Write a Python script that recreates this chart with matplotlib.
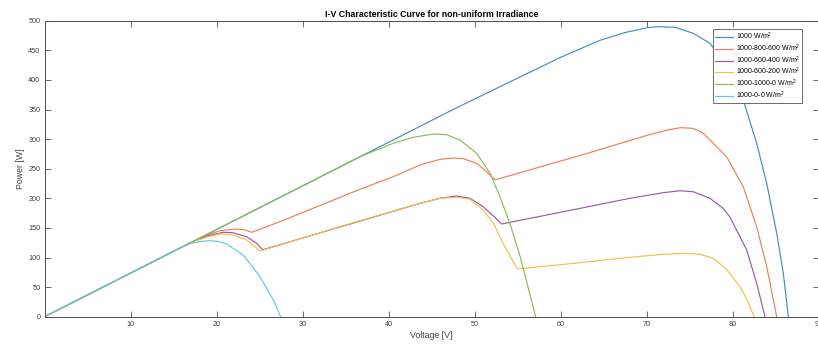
import matplotlib
matplotlib.use("Agg")
import matplotlib.pyplot as plt

plt.rcParams['font.family'] = ['Liberation Sans', 'DejaVu Sans']
plt.rcParams['mathtext.fontset'] = 'custom'
plt.rcParams['mathtext.rm'] = 'Liberation Sans'
plt.rcParams['mathtext.it'] = 'Liberation Sans:italic'

title = "I-V Characteristic Curve for non-uniform Irradiance"
xlabel = "Voltage [V]"
ylabel = "Power [W]"

labels = ["1000 W/m$^2$", "1000-800-600 W/m$^2$", "1000-600-400 W/m$^2$",
          "1000-600-200 W/m$^2$", "1000-1000-0 W/m$^2$", "1000-0-0 W/m$^2$"]
colors = ["#3f8fc9", "#ee7e5c", "#9a5aa6", "#efc24a", "#8cbd55", "#62c6ec"]

# 1000 W/m2
v_1000 = [0, 36.67, 47.5, 52.95, 60.13, 64.6, 67.5, 70.0, 71.36, 73.3, 75.43, 77.37,
          78.07, 79.6, 81.24, 82.8, 83.97, 85.13, 85.9, 86.48]
p_1000 = [0, 270, 350, 388.5, 439, 467, 480, 488, 490, 488.8, 478.7, 461.8,
          447.6, 410, 366, 293, 225, 141, 73, 0]

# 1000-800-600
v_886 = [0, 17.7, 18.85, 20.4, 22.34, 23.2, 24.08, 27.37, 36.67, 40.55, 43.65, 45.98,
         47.52, 48.69, 50.24, 51.4, 52.37, 63.0, 70.2, 72.5, 73.9, 75.4, 76.6, 79.3,
         81.24, 82.8, 83.97, 85.13]
p_886 = [0, 130.0, 138, 145.3, 148.1, 146.9, 142.6, 160.5, 215.2, 236.5, 256.3, 265.9,
         268, 267, 259, 245, 231, 275.5, 307, 315.5, 319.3, 318.2, 309.8, 270.3,
         219.6, 152, 84.5, 0]

# 1000-600-400
v_864 = [0, 17.0, 18.9, 20.8, 21.9, 23.5, 24.66, 25.36, 36.67, 43.65, 45.98, 47.9,
         49.47, 51.0, 52.2, 53.15, 62.26, 68.07, 71.94, 73.88, 75.43, 77.37, 78.9,
         79.7, 81.64, 82.8, 83.77]
p_864 = [0, 125.5, 136.5, 142.6, 141.9, 135, 124, 113.0, 161.5, 191.5, 200, 203.9,
         200, 185.8, 170, 156.6, 183, 200, 209.5, 212.8, 211, 200, 183,
         168, 112.7, 56.4, 0]

# 1000-600-200
v_862 = [0, 17.0, 18.9, 20.4, 21.9, 23.5, 25.05, 36.67, 43.65, 45.98, 47.9, 49.47,
         51.0, 52.2, 53.3, 54.97, 62.26, 68.07, 71.94, 74.66, 76.2, 77.76, 79.3,
         80.86, 81.7, 82.5]
p_862 = [0, 125.3, 134.5, 139.7, 138, 129.6, 111, 162.2, 191.5, 200, 201.7, 198.3,
         180, 157.8, 124, 80.6, 91.2, 100.3, 105.4, 107, 105.4, 98.6, 80,
         50.7, 28, 0]

# 1000-1000-0
v_110 = [0, 36.67, 40.55, 42.87, 45.2, 46.76, 48.3, 50.24, 51.8, 52.95, 54.1, 55.3,
         56.2, 57.1]
p_110 = [0, 270.3, 292.9, 303, 308.6, 307.4, 298.5, 276, 242.2, 202.7, 157.8, 101.4,
         50.7, 0]

# 1000-0-0
v_100 = [0, 14.6, 16.9, 18.2, 19.23, 20.2, 21.17, 23.1, 25.05, 26.6, 27.45]
p_100 = [0, 107.6, 123.5, 127.2, 128.4, 127.0, 122.8, 104.2, 67.6, 28.2, 0]

series_v = [v_1000, v_886, v_864, v_862, v_110, v_100]
series_p = [p_1000, p_886, p_864, p_862, p_110, p_100]

xticks = [10, 20, 30, 40, 50, 60, 70, 80, 90]
yticks = [0, 50, 100, 150, 200, 250, 300, 350, 400, 450, 500]

W, H = 818, 345
fig = plt.figure(figsize=(W / 100, H / 100), dpi=100)
ax = fig.add_axes([44.6 / W, (H - 316.7) / H, 774.0 / W, 296.0 / H])

for v, p, c, lab in zip(series_v, series_p, colors, labels):
    ax.plot(v, p, color=c, lw=0.85, label=lab)

ax.set_xlim(0, 90)
ax.set_ylim(0, 500)
ax.set_xticks(xticks)
ax.set_yticks(yticks)
axc = "#4d4d4d"
ax.tick_params(direction='in', length=4.3, width=0.6, colors=axc, labelsize=5.2,
               top=True, right=True, labelcolor="#404040", pad=3)
for s in ax.spines.values():
    s.set_color(axc)
    s.set_linewidth(0.7)

ax.set_title(title, fontsize=6.3, fontweight='bold', pad=3, color='black')
ax.set_xlabel(xlabel, fontsize=6.3, color="#404040", labelpad=2.5)
ax.set_ylabel(ylabel, fontsize=6.3, color="#404040", labelpad=2.5)

leg = ax.legend(loc='upper right', bbox_to_anchor=(0.9786, 0.972), borderaxespad=0,
                fontsize=5.0, frameon=True, fancybox=False, framealpha=1,
                edgecolor='#555555', handlelength=2.6, handletextpad=0.3,
                labelspacing=0.05, borderpad=0.3)
leg.get_frame().set_linewidth(0.6)

fig.savefig("out.png", dpi=100)
